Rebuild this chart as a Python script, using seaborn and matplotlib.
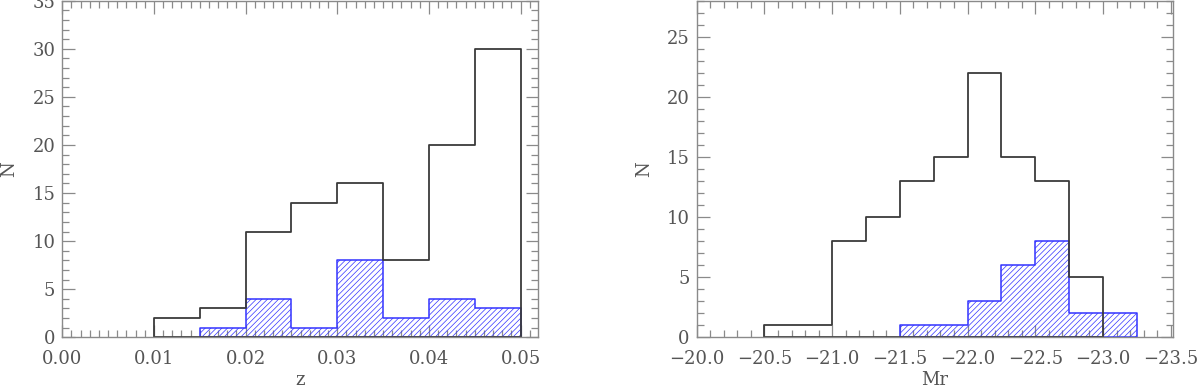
import numpy as np
import pandas as pd
import matplotlib
matplotlib.use("Agg")
import matplotlib.pyplot as plt
from matplotlib.ticker import MultipleLocator, FuncFormatter
import seaborn as sns

# ---- data ----
z_bins = [0.010, 0.015, 0.020, 0.025, 0.030, 0.035, 0.040, 0.045, 0.050]
z_all = [2, 3, 11, 14, 16, 8, 20, 30]
z_sub_bins = [0.015, 0.020, 0.025, 0.030, 0.035, 0.040, 0.045, 0.050]
z_sub = [1, 4, 1, 8, 2, 4, 3]

mr_bins = [-23.0, -22.75, -22.5, -22.25, -22.0, -21.75, -21.5, -21.25, -21.0, -20.75, -20.5]
mr_all = [5, 13, 15, 22, 15, 13, 10, 8, 1, 1]
mr_sub_bins = [-23.25, -23.0, -22.75, -22.5, -22.25, -22.0, -21.75, -21.5]
mr_sub = [2, 2, 8, 6, 3, 1, 1]

z_ticks = [0.00, 0.01, 0.02, 0.03, 0.04, 0.05]
mr_ticks = [-20.0, -20.5, -21.0, -21.5, -22.0, -22.5, -23.0, -23.5]

sns.set_theme(style="white")
plt.rcParams["font.family"] = ["DejaVu Serif"]
plt.rcParams["hatch.linewidth"] = 0.5

TXT = "#555555"
AX = "#8a8a8a"
BLUE = "#3333ff"
BLACK = "#3a3a3a"

fig = plt.figure(figsize=(12, 3.9), dpi=100)
axL = fig.add_axes([0.0519, 0.1351, 0.3964, 0.8631])
axR = fig.add_axes([0.5806, 0.1351, 0.3967, 0.8631])


def centers(edges):
    e = np.asarray(edges, dtype=float)
    return (e[:-1] + e[1:]) / 2


def draw(ax, bins_all, cnt_all, bins_sub, cnt_sub):
    sns.histplot(x=centers(bins_sub), weights=cnt_sub, bins=bins_sub, element="step",
                 fill=True, color=BLUE, linewidth=1.1, alpha=1, ax=ax)
    c = ax.collections[-1]
    c.set_facecolor("none")
    c.set_edgecolor(BLUE)
    c.set_hatch("//////")
    sns.histplot(x=centers(bins_all), weights=cnt_all, bins=bins_all, element="step",
                 fill=True, color=BLACK, linewidth=1.3, alpha=1, ax=ax)
    c = ax.collections[-1]
    c.set_facecolor("none")
    c.set_edgecolor(BLACK)


draw(axL, z_bins, z_all, z_sub_bins, z_sub)
draw(axR, mr_bins, mr_all, mr_sub_bins, mr_sub)

axL.set_xlim(0.0, 0.0519)
axL.set_ylim(0, 35)
axL.set_xticks(z_ticks)
axL.xaxis.set_minor_locator(MultipleLocator(0.001))
axL.xaxis.set_major_formatter(FuncFormatter(lambda v, p: f"{v:.2f}"))
axL.set_xlabel("z")

axR.set_xlim(-20.0, -23.515)
axR.set_ylim(0, 28)
axR.set_xticks(mr_ticks)
axR.xaxis.set_minor_locator(MultipleLocator(0.1))
axR.xaxis.set_major_formatter(FuncFormatter(lambda v, p: f"{v:.1f}".replace("-", "\u2212")))
axR.set_xlabel("Mr")

for ax in (axL, axR):
    ax.yaxis.set_major_locator(MultipleLocator(5))
    ax.yaxis.set_minor_locator(MultipleLocator(1))
    ax.yaxis.set_major_formatter(FuncFormatter(lambda v, p: f"{v:.0f}"))
    ax.set_ylabel("N", fontsize=13, color=TXT, labelpad=10)
    ax.xaxis.label.set_fontsize(13)
    ax.xaxis.label.set_color(TXT)
    ax.xaxis.labelpad = 2
    ax.tick_params(which="both", direction="in", top=True, right=True,
                   bottom=True, left=True, color=AX, width=0.9)
    ax.tick_params(which="major", length=9, labelsize=13, labelcolor=TXT)
    ax.tick_params(axis="x", which="major", pad=9)
    ax.tick_params(axis="y", which="major", pad=5)
    ax.tick_params(which="minor", length=5)
    for s in ax.spines.values():
        s.set_visible(True)
        s.set_color(AX)
        s.set_linewidth(1.0)
    ax.grid(False)

fig.savefig("out.png", dpi=100)
